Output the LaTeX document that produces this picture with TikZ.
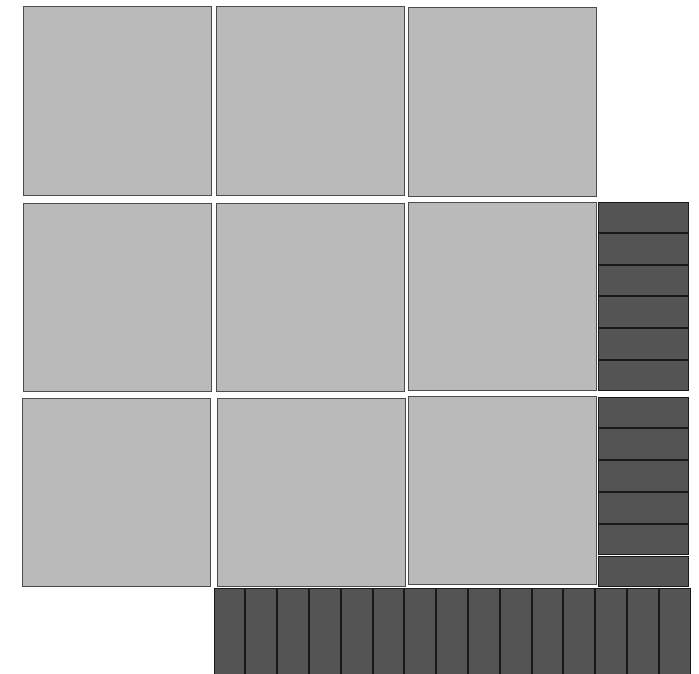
\documentclass[tikz,border=0pt]{standalone}

\begin{document}
\begin{tikzpicture}[x=1pt,y=-1pt,
    tile/.style={draw=black!70,fill=black!27,line width=1pt,minimum width=188pt,minimum height=188pt,inner sep=0pt,outer sep=0pt,anchor=north west},
    hbar/.style={draw=black!90,fill=black!67,line width=1pt,minimum width=90.5pt,minimum height=30.6pt,inner sep=0pt,outer sep=0pt,anchor=north west},
    vbar/.style={draw=black!90,fill=black!67,line width=1pt,minimum width=30.8pt,minimum height=95pt,inner sep=0pt,outer sep=0pt,anchor=north west}
]

% Frame
\useasboundingbox (0,0) rectangle (699,674);
\clip (0,0) rectangle (699,674);

% Tiles (3x3)
\foreach \r/\c/\x/\y in {1/1/23/7, 1/2/216/7, 1/3/408/8,
                         2/1/23/203, 2/2/216/203, 2/3/408/202,
                         3/1/22/398, 3/2/217/398, 3/3/408/396}
    \node[tile] (t\r\c) at (\x,\y) {};

% Right bars
\foreach \i in {0,...,5}
    \node[hbar] (ra\i) at (598,202+31.6*\i) {};
\foreach \i in {0,...,5}
    \node[hbar] (rb\i) at (598,397+31.8*\i) {};

% Bottom bars
\foreach \i in {0,...,14}
    \node[vbar] (b\i) at (214+31.8*\i,588) {};

\end{tikzpicture}
\end{document}
